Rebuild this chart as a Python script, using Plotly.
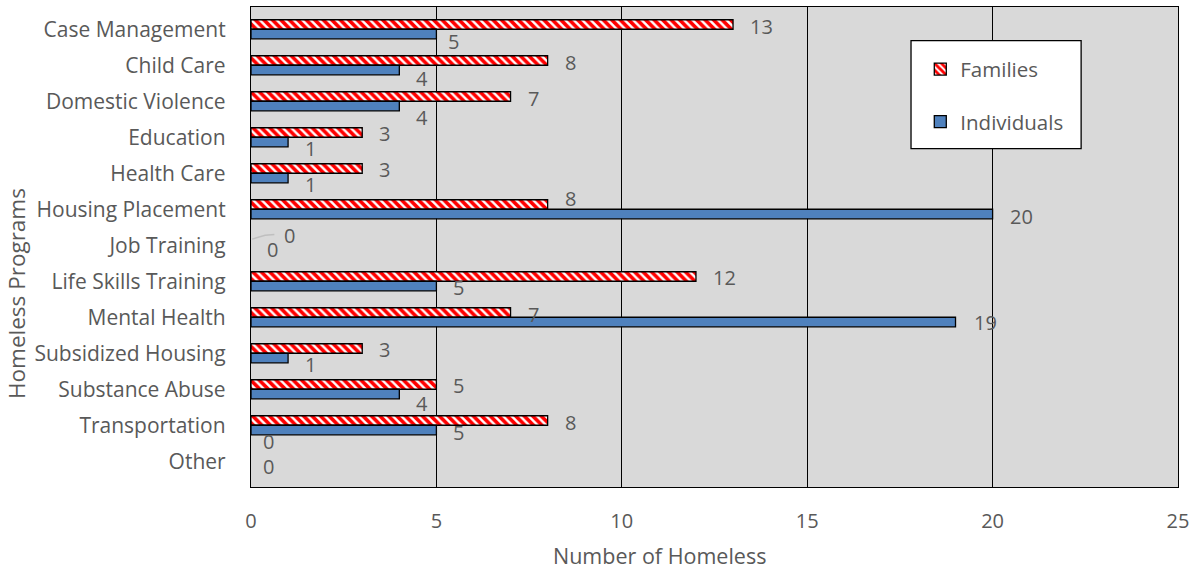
import plotly.graph_objects as go

# Homeless programs survey: counts of families and individuals served
programs = [
    "Case Management", "Child Care", "Domestic Violence", "Education",
    "Health Care", "Housing Placement", "Job Training", "Life Skills Training",
    "Mental Health", "Subsidized Housing", "Substance Abuse", "Transportation",
    "Other",
]
families = [13, 8, 7, 3, 3, 8, 0, 12, 7, 3, 5, 8, 0]
individuals = [5, 4, 4, 1, 1, 20, 0, 5, 19, 1, 4, 5, 0]

x_ticks = [0, 5, 10, 15, 20, 25]

# label nudges in pixels (down = positive, right = positive)
fam_label_dy = [2, 2, 2, 1, 1, -6, -5, 1, 2, 1, 1, 2, -15]
ind_label_dy = [7, 8, 11, 6, 6, 2, -1, 1, 0, 6, 9, 2, 0]
fam_label_dx = [15, 15, 15, 15, 15, 15, 31, 15, 15, 15, 15, 15, 10]
ind_label_dx = [10, 15, 15, 15, 15, 15, 14, 15, 16, 15, 15, 15, 10]

FONT = "Open Sans"
TXT = "#595959"
BARGAP = 0.47
half = (1 - BARGAP) / 4  # centre offset of each bar in a group


def outline(values):
    # no outline on empty bars
    return [1.3 if v > 0 else 0 for v in values]


fig = go.Figure()
fig.add_trace(go.Bar(
    y=programs, x=families, name="Families", orientation="h",
    legendgroup="f",
    marker=dict(
        color="white",
        line=dict(color="black", width=outline(families)),
        pattern=dict(shape="\\", fgcolor="#FF0000", fgopacity=1,
                     bgcolor="white", size=6, solidity=0.6),
    ),
))
fig.add_trace(go.Bar(
    y=programs, x=individuals, name="Individuals", orientation="h",
    legendgroup="i",
    marker=dict(color="#4F81BD",
                line=dict(color="black", width=outline(individuals))),
))

annotations = []
for i, (fv, iv) in enumerate(zip(families, individuals)):
    annotations.append(dict(
        x=fv, y=i - half, xref="x", yref="y", text=str(fv), showarrow=False,
        xanchor="left", yanchor="middle", xshift=fam_label_dx[i],
        yshift=-fam_label_dy[i], font=dict(family=FONT, size=20, color=TXT),
    ))
    annotations.append(dict(
        x=iv, y=i + half, xref="x", yref="y", text=str(iv), showarrow=False,
        xanchor="left", yanchor="middle", xshift=ind_label_dx[i],
        yshift=-ind_label_dy[i], font=dict(family=FONT, size=20, color=TXT),
    ))

# axis titles
annotations.append(dict(
    text="Number of Homeless", xref="paper", yref="paper",
    x=0.441, y=-0.142, xanchor="center", yanchor="middle", showarrow=False,
    font=dict(family=FONT, size=21.5, color=TXT),
))
annotations.append(dict(
    text="Homeless Programs", xref="paper", yref="paper", textangle=-90,
    x=-0.2535, y=0.402, xanchor="center", yanchor="middle", showarrow=False,
    font=dict(family=FONT, size=22.5, color=TXT),
))

shapes = [
    # leader line for the Job Training labels
    dict(type="path", xref="x", yref="y",
         path="M 0.03,5.83 L 0.38,5.72 L 0.63,5.70",
         line=dict(color="#BFBFBF", width=1.5)),
    # legend frame
    dict(type="rect", xref="paper", yref="paper",
         x0=0.712, x1=0.8955, y0=0.705, y1=0.93,
         fillcolor="white", line=dict(color="black", width=1.3),
         layer="above"),
]

fig.update_layout(
    width=1199, height=571,
    margin=dict(l=251, r=21, t=7, b=84),
    paper_bgcolor="white", plot_bgcolor="#D9D9D9",
    barmode="group", bargap=BARGAP, bargroupgap=0,
    font=dict(family=FONT, color=TXT, size=17),
    showlegend=True,
    legend=dict(
        x=0.722, y=0.912, xanchor="left", yanchor="top",
        bgcolor="rgba(0,0,0,0)", borderwidth=0,
        traceorder="grouped", tracegroupgap=23,
        font=dict(family=FONT, size=20.5, color=TXT),
        itemwidth=30,
    ),
    annotations=annotations,
    shapes=shapes,
)
fig.update_xaxes(
    range=[0, 25], tickvals=x_ticks, ticktext=[str(t) for t in x_ticks],
    showgrid=True, gridcolor="black", gridwidth=1.3,
    showline=True, linecolor="black", linewidth=1.3, mirror=True,
    zeroline=False, ticks="", ticklabelstandoff=16,
    tickfont=dict(family=FONT, size=20, color=TXT),
)
fig.update_yaxes(
    categoryorder="array", categoryarray=programs, autorange="reversed",
    showgrid=False, showline=True, linecolor="black", linewidth=1.3,
    mirror=True, ticks="", ticklabelstandoff=20,
    tickfont=dict(family=FONT, size=21, color=TXT),
)

fig.write_html("out.html")
